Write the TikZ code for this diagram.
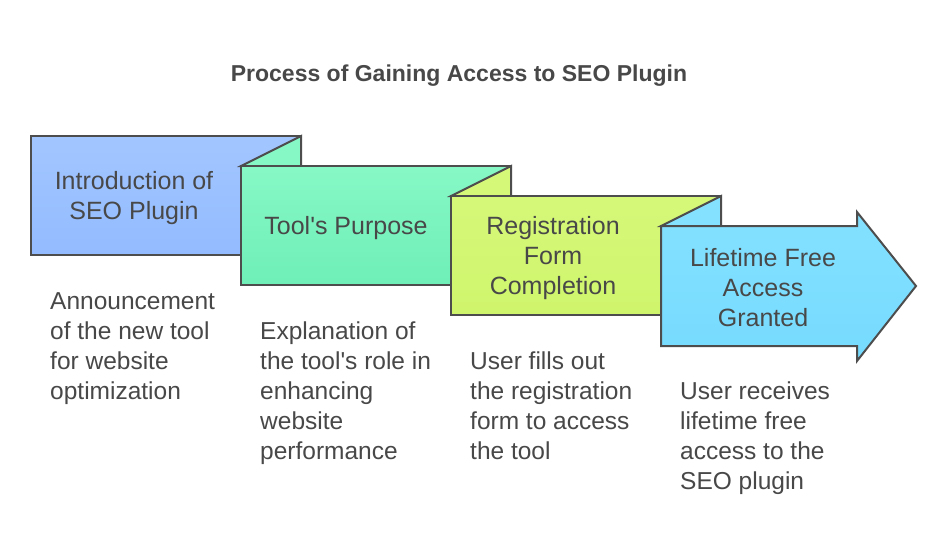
\documentclass[tikz,border=0pt]{standalone}
\usepackage{fontspec}
\setmainfont{Liberation Sans}
\definecolor{ink}{HTML}{484848}
\definecolor{edge}{HTML}{4D4D4D}
\definecolor{bA}{HTML}{A2C6FF}\definecolor{bAb}{HTML}{93BBFF}
\definecolor{gA}{HTML}{86F8C6}\definecolor{gAb}{HTML}{6FEFB8}
\definecolor{lA}{HTML}{D6F879}\definecolor{lAb}{HTML}{CFF56C}
\definecolor{cA}{HTML}{84E1FF}\definecolor{cAb}{HTML}{76DBFF}
\tikzset{
  panel/.style={draw=edge,line width=2pt,line join=miter},
  lab/.style={text=ink,align=center,inner sep=0pt,font=\fontsize{25}{30}\selectfont},
  desc/.style={text=ink,align=left,inner sep=0pt,anchor=north west,font=\fontsize{24.5}{30}\selectfont},
}
\begin{document}
\begin{tikzpicture}[x=1pt,y=-1pt]
\useasboundingbox[fill=white] (0,0) rectangle (948,558);
\node[text=ink,font=\fontsize{23}{26}\selectfont\bfseries] (title) at (459,76) {Process of Gaining Access to SEO Plugin};
% box 1
\path[panel,top color=bA,bottom color=bAb] (31,136) rectangle (301,255);
% box 2
\path[panel,top color=gA,bottom color=gA] (241,166) -- (301,136) -- (301,166) -- cycle;
\path[panel,top color=gA,bottom color=gAb] (241,166) rectangle (511,285);
% box 3
\path[panel,fill=lA] (451,196) -- (511,166) -- (511,196) -- cycle;
\path[panel,top color=lA,bottom color=lAb] (451,196) rectangle (721,315);
% box 4
\path[panel,fill=cA] (661,226) -- (721,196) -- (721,226) -- cycle;
\path[panel,top color=cA,bottom color=cAb] (661,226) -- (857,226) -- (857,212) -- (916,286) -- (857,361) -- (857,346) -- (661,346) -- cycle;
% labels
\node[lab] (l1) at (134,198) {Introduction of\\SEO Plugin};
\node[lab] (l2) at (346,228) {Tool\textquotesingle s Purpose};
\node[lab] (l3) at (553,258) {Registration\\Form\\Completion};
\node[lab] (l4) at (763,288) {Lifetime Free\\Access\\Granted};
% descriptions
\node[desc] (d1) at (50,292) {Announcement\\of the new tool\\for website\\optimization};
\node[desc] (d2) at (260,322) {Explanation of\\the tool\textquotesingle s role in\\enhancing\\website\\performance};
\node[desc] (d3) at (470,352) {User fills out\\the registration\\form to access\\the tool};
\node[desc] (d4) at (680,382) {User receives\\lifetime free\\access to the\\SEO plugin};
\end{tikzpicture}
\end{document}
